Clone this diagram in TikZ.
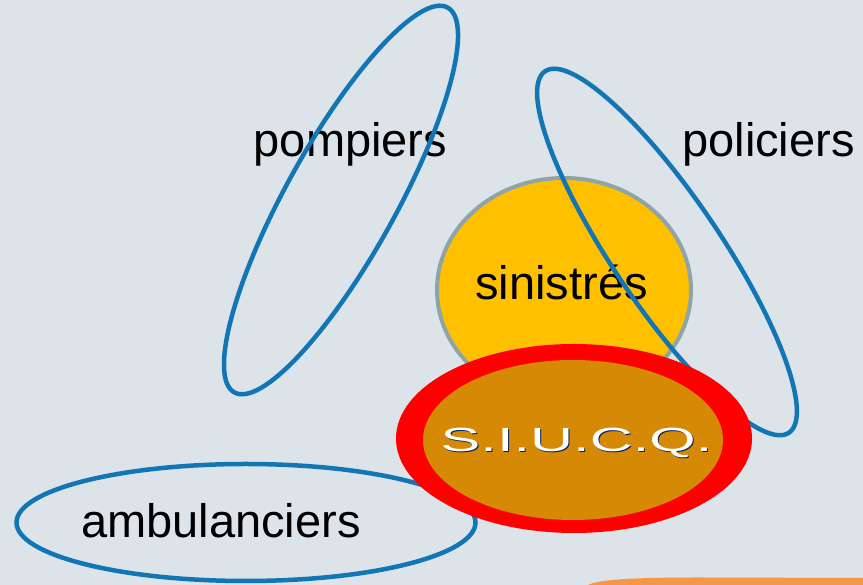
\documentclass[tikz,border=0pt]{standalone}
\usepackage{fontspec}
\setmainfont{Liberation Sans}
\usetikzlibrary{shapes.geometric}

\definecolor{fond}{HTML}{DCE3E9}
\definecolor{bleu}{HTML}{1276B5}
\definecolor{jaune}{HTML}{FFC000}
\definecolor{grisbord}{HTML}{8FA4A8}
\definecolor{rouge}{HTML}{FF0000}
\definecolor{ocre}{HTML}{D58905}
\definecolor{orangebas}{HTML}{F79646}
\definecolor{marine}{HTML}{0A1E5A}

\begin{document}
\begin{tikzpicture}[
  x=1pt, y=1pt,
  bulle/.style={draw=bleu, line width=4.5pt, ellipse, inner sep=0pt},
  etiq/.style={font=\fontsize{47}{56}\selectfont, anchor=base, inner sep=0pt},
]
  % fond
  \fill[fond] (0,0) rectangle (863,585);
  \useasboundingbox (0,0) rectangle (863,585);

  % bande orange en bas
  \fill[orangebas] (588,0) .. controls (600,6) and (640,7.5) .. (700,7.5)
    -- (863,7) -- (863,0) -- cycle;

  % ambulanciers
  \node[bulle, minimum width=459pt, minimum height=117pt] (amb) at (246,62.5) {};
  \node[etiq] (tamb) at (221,47) {ambulanciers};

  % pompiers
  \node[etiq] (tpomp) at (350.5,428) {pompiers};
  \node[bulle, minimum width=440pt, minimum height=110pt, rotate=61] (pomp) at (341,385) {};

  % sinistres
  \node[ellipse, fill=jaune, draw=grisbord, line width=4pt, inner sep=0pt,
    minimum width=254pt, minimum height=224pt] (sin) at (564,295) {};
  \node[etiq] (tsin) at (561.5,285) {sinistrés};

  % policiers
  \node[etiq] (tpol) at (768.5,428) {policiers};
  \node[bulle, minimum width=436pt, minimum height=108pt, rotate=-56] (pol) at (667,333) {};

  % S.I.U.C.Q.
  \node[ellipse, fill=rouge, inner sep=0pt, minimum width=356pt, minimum height=189pt] (siucqext) at (574,146.5) {};
  \node[ellipse, fill=ocre, inner sep=0pt, minimum width=300pt, minimum height=160pt] (siucq) at (573,145) {};
  \node[anchor=base, inner sep=0pt, text=marine, font=\fontsize{33.5}{40}\selectfont]
    (tsiucqombre) at (577.5,132) {\scalebox{1.78}[1]{S.I.U.C.Q.}};
  \node[anchor=base, inner sep=0pt, text=white, font=\fontsize{33.5}{40}\selectfont]
    (tsiucq) at (576.5,133) {\scalebox{1.78}[1]{S.I.U.C.Q.}};
\end{tikzpicture}
\end{document}
